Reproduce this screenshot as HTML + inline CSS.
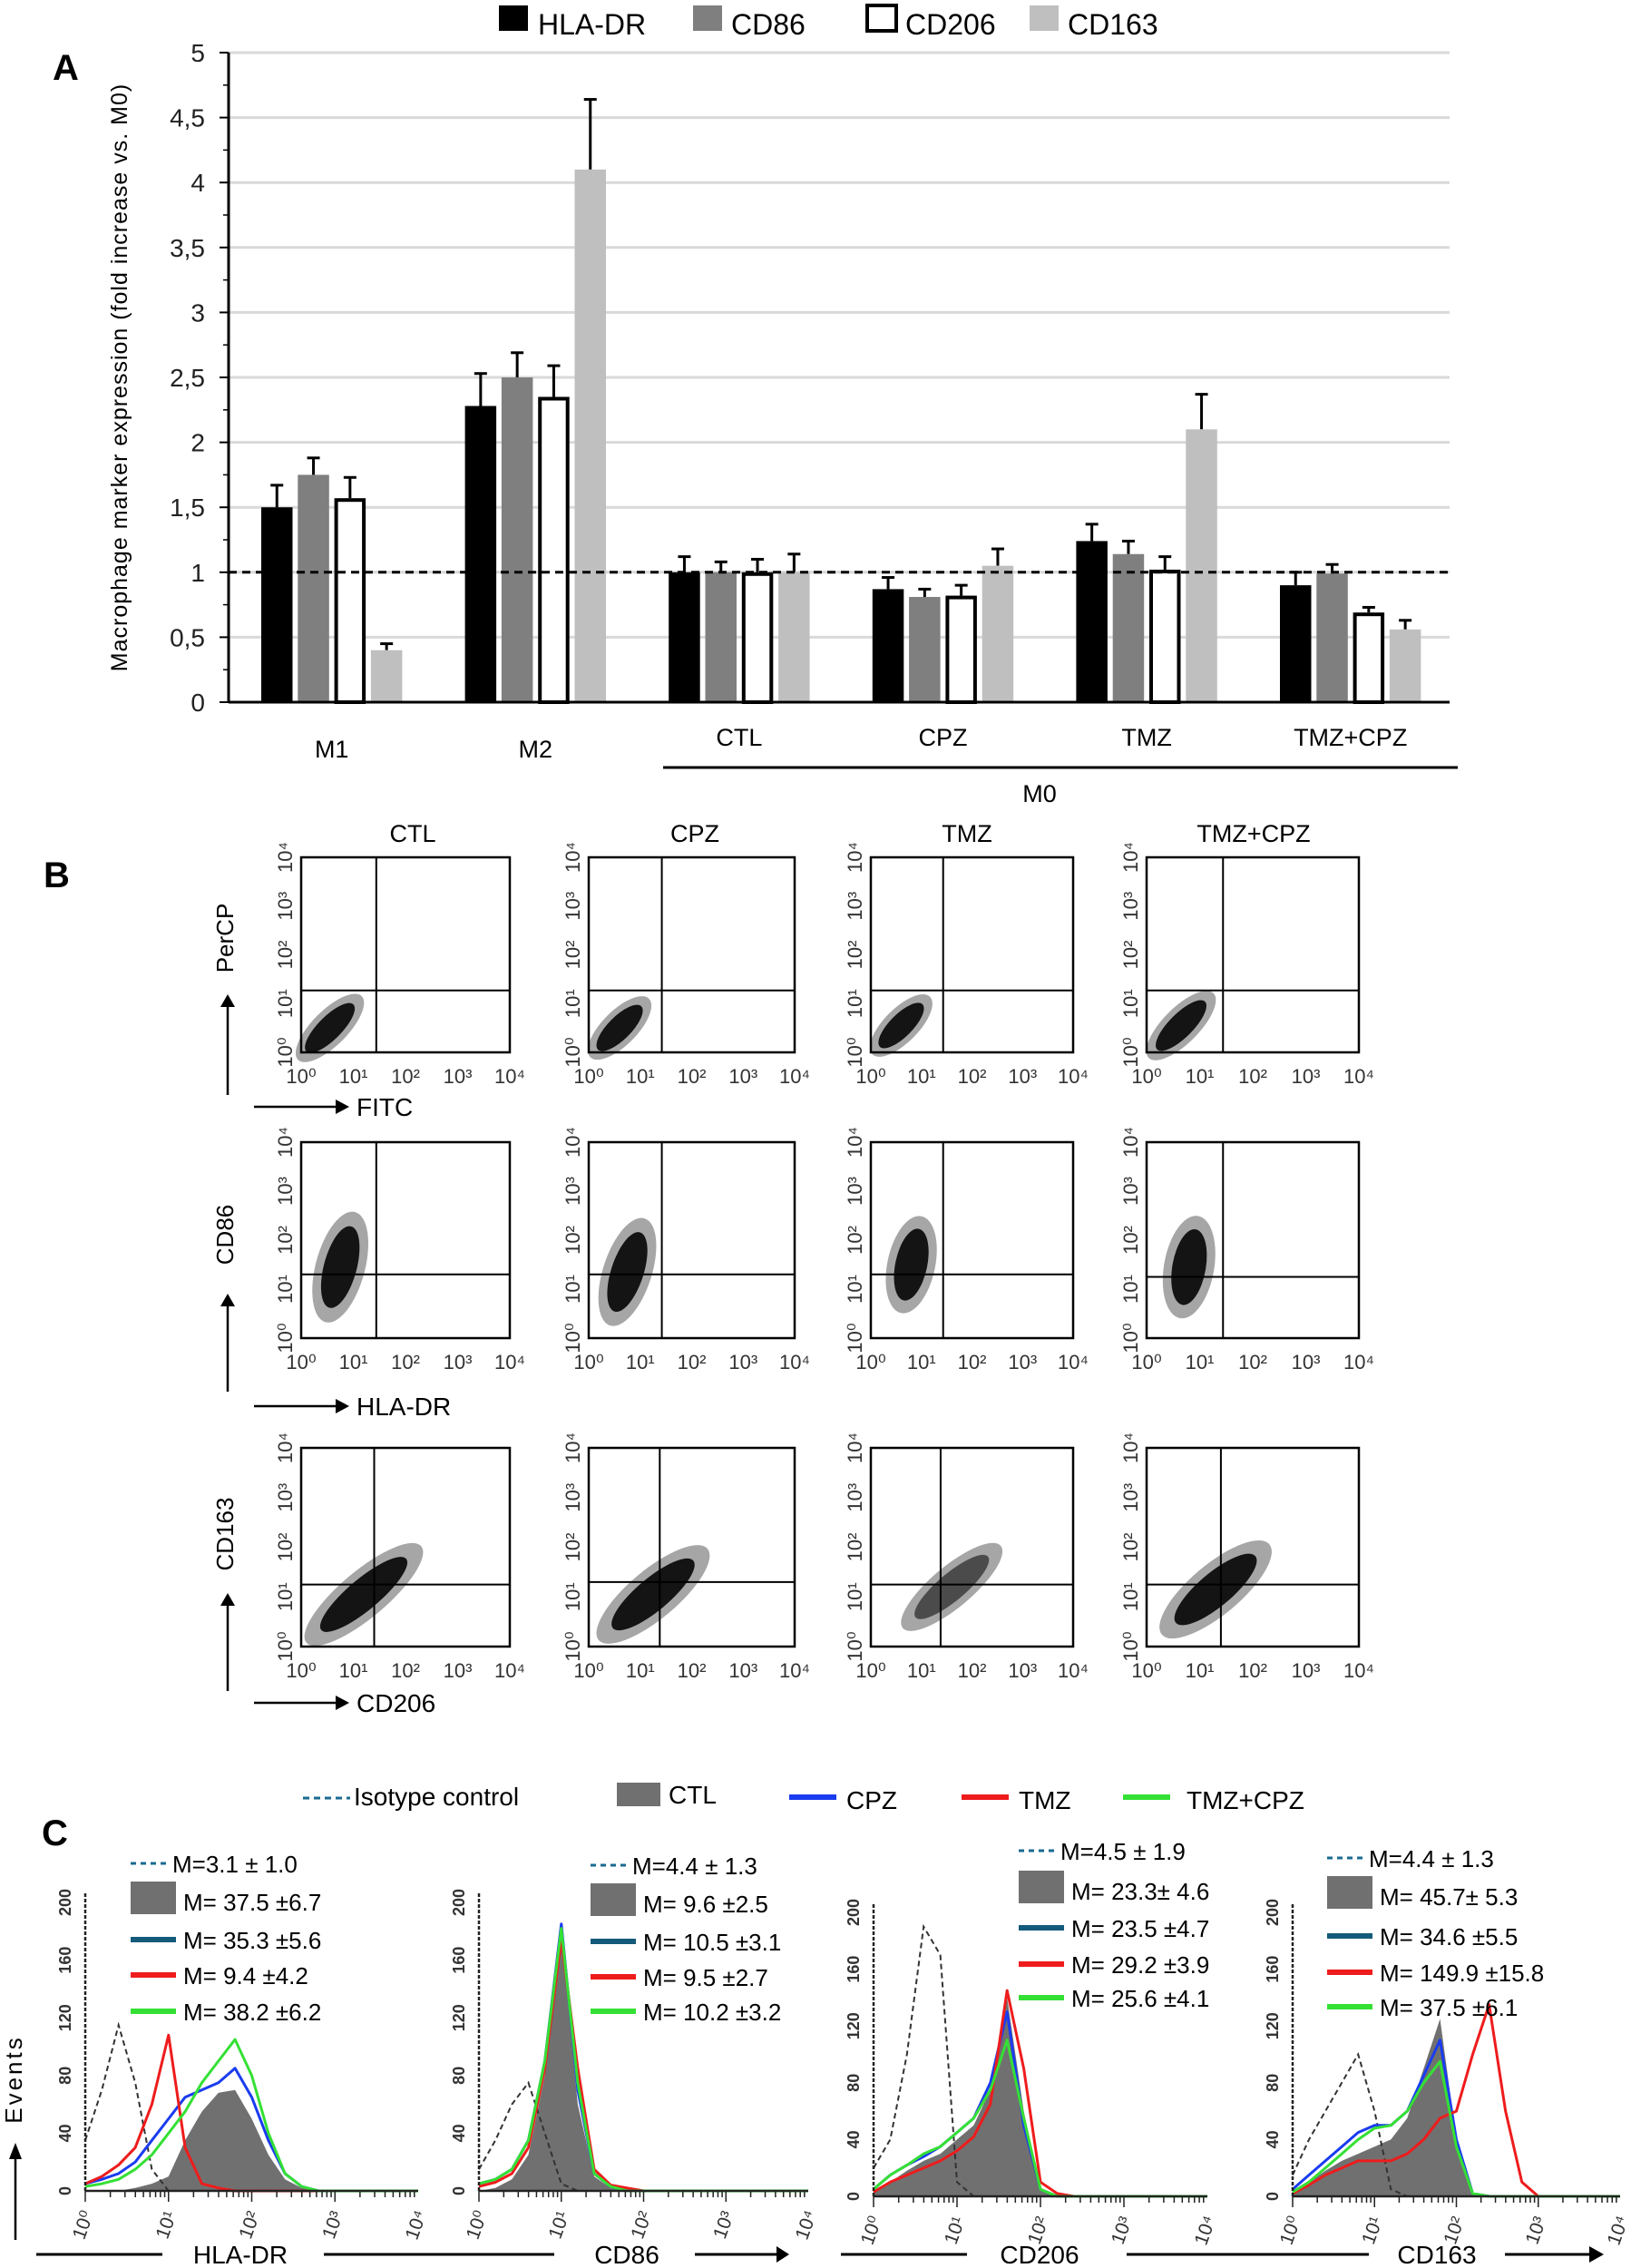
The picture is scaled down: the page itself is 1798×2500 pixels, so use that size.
<!DOCTYPE html>
<html><head><meta charset="utf-8"><style>
html,body{margin:0;padding:0;background:#fff;}
svg{display:block;font-family:"Liberation Sans Narrow","Liberation Sans",sans-serif;}
</style></head><body>
<svg id="fig" xmlns="http://www.w3.org/2000/svg" width="1798" height="2500" viewBox="0 0 1798 2500"></svg>
<script>
// ---------- Panel A data ----------
const catsA = ['M1','M2','CTL','CPZ','TMZ','TMZ+CPZ'];
const seriesNames = ['HLA-DR','CD86','CD206','CD163'];
const hlaVals = [1.5,2.28,1.0,0.87,1.24,0.9];
const hlaErr = [0.17,0.25,0.12,0.09,0.13,0.1];
const cd86Vals = [1.75,2.5,1.0,0.81,1.14,0.99];
const cd86Err = [0.13,0.19,0.08,0.06,0.1,0.07];
const cd206Vals = [1.57,2.35,1.0,0.82,1.02,0.69];
const cd206Err = [0.16,0.24,0.1,0.08,0.1,0.04];
const cd163Vals = [0.4,4.1,1.0,1.05,2.1,0.56];
const cd163Err = [0.05,0.54,0.14,0.13,0.27,0.07];
const yTicksA = [0,0.5,1,1.5,2,2.5,3,3.5,4,4.5,5];
const yTickLabelsA = ['0','0,5','1','1,5','2','2,5','3','3,5','4','4,5','5'];

// ---------- Panel B data (log-decade cloud descriptors) ----------
const condsB = ['CTL','CPZ','TMZ','TMZ+CPZ'];
const rowYLabels = ['PerCP','CD86','CD163'];
const rowXLabels = ['FITC','HLA-DR','CD206'];
const cloudCx = [[0.55,0.6,0.6,0.65],[0.75,0.75,0.8,0.8],[1.2,1.25,1.6,1.3]];
const cloudCy = [[0.5,0.5,0.55,0.55],[1.45,1.35,1.5,1.45],[1.05,1.05,1.2,1.15]];
const cloudMaj = [[0.75,0.7,0.7,0.75],[0.95,0.95,0.85,0.85],[1.25,1.2,1.1,1.15]];
const cloudMin = [[0.25,0.25,0.25,0.25],[0.35,0.35,0.35,0.35],[0.33,0.35,0.3,0.35]];
const cloudAng = [[-45,-45,-45,-45],[-75,-72,-78,-80],[-40,-40,-40,-40]];
const quadX = [[1.44,1.42,1.43,1.44],[1.44,1.42,1.43,1.44],[1.4,1.38,1.38,1.4]];
const quadY = [[1.27,1.27,1.27,1.27],[1.3,1.3,1.3,1.25],[1.25,1.3,1.25,1.25]];

// ---------- Panel C data (counts at log steps 0,0.2,...,4) ----------
const histMarkers = ['HLA-DR','CD86','CD206','CD163'];
const isoC = [[35,70,115,75,15,0],[15,35,60,75,40,5,0],[20,40,100,190,170,10,0],[15,40,60,80,100,60,5,0]];
const ctlC = [[0,0,0,2,5,10,35,55,68,70,50,25,8,2,0],[0,2,8,25,80,180,60,10,2,0],[3,10,18,25,30,40,50,75,140,60,5,0],[2,10,18,25,30,35,40,55,90,125,40,2,0]];
const cpzC = [[5,8,12,20,35,50,65,70,75,85,65,35,12,3,0],[5,8,15,35,90,185,70,12,3,0],[5,15,22,28,35,45,55,80,130,50,5,0],[5,15,25,35,45,50,50,60,85,110,40,2,0]];
const tmzC = [[5,10,18,30,60,108,30,5,2,0],[3,6,12,30,85,175,85,15,4,2,0],[3,10,15,20,25,32,42,65,145,90,10,2,0],[2,8,15,20,25,25,25,30,40,55,60,100,135,60,10,0]];
const tmzcpzC = [[3,5,8,15,25,40,55,75,90,105,80,40,12,3,0],[5,8,15,35,90,182,75,12,3,0],[5,15,22,30,35,45,55,75,110,55,5,0],[3,10,20,30,40,48,50,60,80,95,35,2,0]];
const meanIso = ['M=3.1 ± 1.0','M=4.4 ± 1.3','M=4.5 ± 1.9','M=4.4 ± 1.3'];
const meanCtl = ['M= 37.5 ±6.7','M= 9.6 ±2.5','M= 23.3± 4.6','M= 45.7± 5.3'];
const meanCpz = ['M= 35.3 ±5.6','M= 10.5 ±3.1','M= 23.5 ±4.7','M= 34.6 ±5.5'];
const meanTmz = ['M= 9.4 ±4.2','M= 9.5 ±2.7','M= 29.2 ±3.9','M= 149.9 ±15.8'];
const meanTmzCpz = ['M= 38.2 ±6.2','M= 10.2 ±3.2','M= 25.6 ±4.1','M= 37.5 ±6.1'];
const yTicksC = [0,40,80,120,160,200];

const NS='http://www.w3.org/2000/svg';
const svg=document.getElementById('fig');
function mk(tag,attrs,parent){const e=document.createElementNS(NS,tag);for(const k in attrs)e.setAttribute(k,attrs[k]);(parent||svg).appendChild(e);return e;}
function txt(s,attrs,parent){const e=mk('text',attrs,parent);e.textContent=s;return e;}

// ================= PANEL A =================
const gA=mk('g',{});


const yA=v=>774-v*143.2;
const xA=(g,s)=>288+g*224.6+s*40.3;
const BW=34.5;
let t=txt('A',{x:58,y:88,'font-size':40,'font-weight':'bold','font-family':'Liberation Sans, sans-serif'},gA);


// gridlines & ticks
yTicksA.forEach((v,i)=>{
  if(v>0){const gl=mk('line',{x1:252,x2:1598,y1:yA(v),y2:yA(v),stroke:'#d9d9d9','stroke-width':3},gA);
  
  }
  const tl=txt(yTickLabelsA[i],{x:226,y:yA(v)+10,'font-size':28,'text-anchor':'end',fill:'#222'},gA);
  
  
  const tk=mk('line',{x1:242,x2:252,y1:yA(v),y2:yA(v),stroke:'#000','stroke-width':2},gA);
  
  
});
for(let v=0.25;v<5;v+=0.5){const mt=mk('line',{x1:246,x2:252,y1:yA(v),y2:yA(v),stroke:'#000','stroke-width':1.5},gA);
  
  }
let ax=mk('line',{x1:252,x2:252,y1:yA(5),y2:yA(0),stroke:'#000','stroke-width':3},gA);


t=txt('Macrophage marker expression (fold increase vs. M0)',{x:0,y:0,'font-size':25,'text-anchor':'middle','letter-spacing':'1',transform:'translate(140,416) rotate(-90)','font-family':'Liberation Sans, sans-serif'},gA);


const valsA=[hlaVals,cd86Vals,cd206Vals,cd163Vals];
const errsA=[hlaErr,cd86Err,cd206Err,cd163Err];
const fillsA=['#000','#7f7f7f','#fff','#bfbfbf'];
catsA.forEach((c,g)=>{
  for(let s=0;s<4;s++){
    const v=valsA[s][g],e=errsA[s][g],x=xA(g,s);
    const eb=mk('line',{x1:x+BW/2,x2:x+BW/2,y1:yA(v),y2:yA(v+e),stroke:'#000','stroke-width':3},gA);
    
    
    const ec=mk('line',{x1:x+BW/2-7,x2:x+BW/2+7,y1:yA(v+e),y2:yA(v+e),stroke:'#000','stroke-width':3},gA);
    
    
    const white=s===2;
    const r=mk('rect',{x:white?x+2:x,y:yA(v)+(white?2:0),width:white?BW-4:BW,height:yA(0)-yA(v)-(white?2:0),fill:fillsA[s],stroke:white?'#000':'none','stroke-width':white?4:0},gA);
    
    
  }
  const lab=txt(c,{x:xA(g,1.5)+BW/2,y:g<2?835:822,'font-size':27,'text-anchor':'middle'},gA);
  
  
});
ax=mk('line',{x1:252,x2:1598,y1:yA(0),y2:yA(0),stroke:'#000','stroke-width':3},gA);


let rl=mk('line',{x1:252,x2:1598,y1:yA(1),y2:yA(1),stroke:'#000','stroke-width':3,'stroke-dasharray':'9,6'},gA);


rl=mk('line',{x1:731,x2:1607,y1:846,y2:846,stroke:'#000','stroke-width':3},gA);


t=txt('M0',{x:1146,y:884,'font-size':27,'text-anchor':'middle'},gA);


// legend A
const legSq=[550,764,954,1135],legTx=[593,806,998,1177];
seriesNames.forEach((n,s)=>{
  const sq=mk('rect',{x:legSq[s]+(s===2?2:0),y:6,width:32,height:28,fill:fillsA[s],stroke:s===2?'#000':'none','stroke-width':4},gA);
  
  
  const lt=txt(n,{x:legTx[s],y:38,'font-size':32},gA);
  
  
});

// ================= PANEL B =================
const gB=mk('g',{});


t=txt('B',{x:48,y:978,'font-size':40,'font-weight':'bold','font-family':'Liberation Sans, sans-serif'},gB);


const colX0=[332,649,960,1264],colX1=[562,876,1183,1498];
const rowY0=[945,1259,1596],rowY1=[1160,1475,1815];
const titleX=[455,766,1066,1382];
condsB.forEach((c,i)=>{const ct=txt(c,{x:titleX[i],y:928,'font-size':27,'text-anchor':'middle'},gB);
  
  });
const sup=['⁰','¹','²','³','⁴'];
for(let r=0;r<3;r++){
  for(let c=0;c<4;c++){
    const x0=colX0[c],x1=colX1[c],y0=rowY0[r],y1=rowY1[r];
    const lx=l=>x0+l*(x1-x0)/4, ly=l=>y1-l*(y1-y0)/4;
    const g=mk('g',{},gB);
    
    
    const cx=lx(cloudCx[r][c]),cy=ly(cloudCy[r][c]);
    const rx=cloudMaj[r][c]*(x1-x0)/4, ry=cloudMin[r][c]*(x1-x0)/4;
    const o=mk('ellipse',{cx:cx,cy:cy,rx:rx*1.15,ry:ry*1.35,fill:'#000','fill-opacity':0.35,transform:`rotate(${cloudAng[r][c]} ${cx} ${cy})`},g);
    
    
    const el=mk('ellipse',{cx:cx,cy:cy,rx:rx*0.85,ry:ry*0.9,fill:'#000','fill-opacity':r===2&&c===2?0.55:0.88,transform:`rotate(${cloudAng[r][c]} ${cx} ${cy})`},g);
    
    
    const bx=mk('rect',{x:x0,y:y0,width:x1-x0,height:y1-y0,fill:'none',stroke:'#000','stroke-width':2.5},g);
    
    
    const qv=mk('line',{x1:lx(quadX[r][c]),x2:lx(quadX[r][c]),y1:y0,y2:y1,stroke:'#000','stroke-width':2},g);
    
    
    const qh=mk('line',{x1:x0,x2:x1,y1:ly(quadY[r][c]),y2:ly(quadY[r][c]),stroke:'#000','stroke-width':2},g);
    
    
    for(let d=0;d<=4;d++){
      const xl=txt('10'+sup[d],{x:lx(d),y:y1+34,'font-size':22,'text-anchor':'middle',fill:'#333','font-family':'Liberation Sans, sans-serif'},g);
      
      
      const yl=txt('10'+sup[d],{x:0,y:0,'font-size':22,'text-anchor':'middle',fill:'#333','font-family':'Liberation Sans, sans-serif',transform:`translate(${x0-10},${ly(d)}) rotate(-90)`},g);
      
      
    }
  }
  // axis arrows and labels
  const ay0=[1207,1534,1864][r],ay1=[1096,1426,1756][r];
  const ya=mk('line',{x1:251,x2:251,y1:ay0,y2:ay1+12,stroke:'#000','stroke-width':2.5},gB);
  
  
  const yh=mk('polygon',{points:`243,${ay1+14} 259,${ay1+14} 251,${ay1}`,fill:'#000'},gB);
  
  
  const ylab=txt(rowYLabels[r],{x:0,y:0,'font-size':26,'text-anchor':'middle','font-family':'Liberation Sans, sans-serif',transform:`translate(257,${[1034,1361,1691][r]}) rotate(-90)`},gB);
  
  
  const axy=[1220,1550,1877][r];
  const xa=mk('line',{x1:280,x2:372,y1:axy,y2:axy,stroke:'#000','stroke-width':2.5},gB);
  
  
  const xh=mk('polygon',{points:`370,${axy-8} 370,${axy+8} 385,${axy}`,fill:'#000'},gB);
  
  
  const xlab=txt(rowXLabels[r],{x:393,y:axy+10,'font-size':28},gB);
  
  
}

// ================= PANEL C =================
const gC=mk('g',{});


t=txt('C',{x:46,y:2034,'font-size':40,'font-weight':'bold','font-family':'Liberation Sans, sans-serif'},gC);


const cBlue='#1a3cf0',cNavy='#145a7a',cRed='#ee1c1c',cGreen='#35e035',cGray='#707070';
// legend C
let lg=mk('line',{x1:334,x2:386,y1:1982,y2:1982,stroke:'#1a6a90','stroke-width':3,'stroke-dasharray':'7,5'},gC);


t=txt('Isotype control',{x:390,y:1990,'font-size':28},gC);


lg=mk('rect',{x:680,y:1965,width:48,height:26,fill:cGray},gC);


t=txt('CTL',{x:737,y:1988,'font-size':28},gC);


const legLines=[[870,922,933,'CPZ',cBlue],[1060,1112,1123,'TMZ',cRed],[1238,1290,1308,'TMZ+CPZ',cGreen]];
legLines.forEach(L=>{
  const l=mk('line',{x1:L[0],x2:L[1],y1:1981,y2:1981,stroke:L[4],'stroke-width':6},gC);
  
  
  const tt=txt(L[3],{x:L[2],y:1994,'font-size':28},gC);
  
  
});
const hx0=[94,528,963,1425],hx1=[461,891,1331,1786],hb=[2415,2415,2421,2421],ht=[2097,2097,2108,2108];
const mlx=[144,651,1123,1463],mly=[[2054,2096,2138,2177,2217],[2056,2098,2140,2179,2217],[2040,2084,2125,2165,2202],[2048,2090,2134,2174,2212]];
const pad=a=>{const r=a.slice();while(r.length<21)r.push(0);return r;};
for(let p=0;p<4;p++){
  const g=mk('g',{},gC);
  
  
  const xH=l=>hx0[p]+l*(hx1[p]-hx0[p])/4;
  const yH=c=>hb[p]-c*(hb[p]-ht[p])/200;
  const pts=arr=>pad(arr).map((c,i)=>xH(i*0.2).toFixed(1)+','+yH(c).toFixed(1));
  // gray filled CTL
  const ctlPts=pts(ctlC[p]);
  const area=mk('polygon',{points:xH(0)+','+yH(0)+' '+ctlPts.join(' ')+' '+xH(4)+','+yH(0),fill:cGray},g);
  
  
  const iso=mk('polyline',{points:pts(isoC[p]).join(' '),fill:'none',stroke:'#333','stroke-width':2,'stroke-dasharray':'6,4'},g);
  
  
  const series=[[cpzC,cBlue,'cpz'],[tmzC,cRed,'tmz'],[tmzcpzC,cGreen,'tmz-cpz']];
  series.forEach(S=>{
    const pl=mk('polyline',{points:pts(S[0][p]).join(' '),fill:'none',stroke:S[1],'stroke-width':3,'stroke-linejoin':'round'},g);
    
    
  });
  // axes
  const xa=mk('line',{x1:hx0[p],x2:hx1[p],y1:hb[p],y2:hb[p],stroke:'#222','stroke-width':2.5},g);
  
  
  const ya=mk('line',{x1:hx0[p],x2:hx0[p],y1:hb[p],y2:ht[p]-10,stroke:'#222','stroke-width':2.5,'stroke-dasharray':'4,2'},g);
  
  
  for(let d=0;d<4;d++)for(let m=1;m<=9;m++){
    const xv=xH(d+Math.log10(m));
    const tk=mk('line',{x1:xv,x2:xv,y1:hb[p],y2:hb[p]+(m===1?12:7),stroke:'#222','stroke-width':1.5},g);
    
    
  }
  for(let d=0;d<=4;d++){
    const xl=txt('10'+sup[d],{x:0,y:0,'font-size':21,'text-anchor':'middle',fill:'#333','font-family':'Liberation Sans, sans-serif',transform:`translate(${xH(d)+4},${hb[p]+40}) rotate(-70)`},g);
    
    
  }
  yTicksC.forEach(v=>{
    const yl=txt(String(v),{x:0,y:0,'font-size':18,'text-anchor':'middle',fill:'#333','font-weight':'bold','font-family':'Liberation Sans, sans-serif',transform:`translate(${hx0[p]-16},${yH(v)}) rotate(-90)`},g);
    
    
  });
  // mean annotations
  const means=[meanIso,meanCtl,meanCpz,meanTmz,meanTmzCpz];
  const mcol=['#1a6a90',cGray,cNavy,cRed,cGreen];
  means.forEach((M,k)=>{
    const y=mly[p][k];
    let sw;
    if(k===0){sw=mk('line',{x1:mlx[p],x2:mlx[p]+44,y1:y,y2:y,stroke:mcol[k],'stroke-width':3,'stroke-dasharray':'6,5'},g);}
    else if(k===1){sw=mk('rect',{x:mlx[p],y:y-22,width:50,height:36,fill:mcol[k]},g);}
    else {sw=mk('line',{x1:mlx[p],x2:mlx[p]+50,y1:y,y2:y,stroke:mcol[k],'stroke-width':6},g);}
    
    
    const mt=txt(M[p],{x:mlx[p]+(k===0?46:58),y:y+10,'font-size':26},g);
    
    
  });
}
// Events label + bottom axis labels
t=txt('Events',{x:0,y:0,'font-size':26,'text-anchor':'middle','letter-spacing':'3','font-family':'Liberation Sans, sans-serif',transform:'translate(24,2292) rotate(-90)'},gC);


let ea=mk('line',{x1:17,x2:17,y1:2469,y2:2378,stroke:'#000','stroke-width':2.5},gC);


ea=mk('polygon',{points:'10,2380 24,2380 17,2362',fill:'#000'},gC);


const bl=[[40,179],[357,611],[927,1066],[1242,1509],[766,856],[1659,1752]];
bl.forEach(b=>{const l=mk('line',{x1:b[0],x2:b[1],y1:2485,y2:2485,stroke:'#000','stroke-width':3},gC);
  
  });
[[856,870],[1752,1768]].forEach(a=>{const h=mk('polygon',{points:`${a[0]},2476 ${a[0]},2494 ${a[1]},2485`,fill:'#000'},gC);
  
  });
[['HLA-DR',265],['CD86',691],['CD206',1146],['CD163',1584]].forEach(L=>{
  const tt=txt(L[0],{x:L[1],y:2495,'font-size':28,'text-anchor':'middle'},gC);
  
  
});
</script>
</body></html>
